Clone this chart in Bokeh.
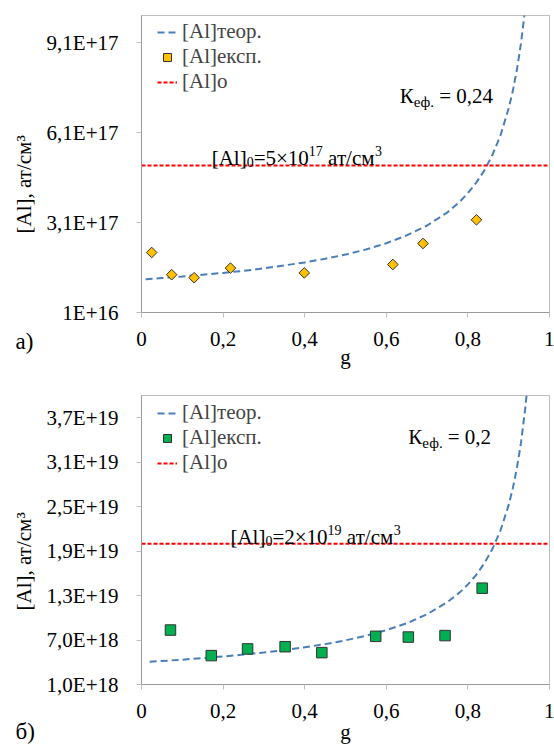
import math
from bokeh.plotting import figure
from bokeh.models import Range1d, FixedTicker, Label, Legend, LegendItem, Title
from bokeh.layouts import column
from bokeh.embed import file_html
from bokeh.resources import INLINE

# ---------------- data ----------------
x_ticks = [0, 0.2, 0.4, 0.6, 0.8, 1]
x_tick_labels = ["0", "0,2", "0,4", "0,6", "0,8", "1"]

# panel a)
a_y_ticks = [1e16, 3.1e17, 6.1e17, 9.1e17]
a_y_tick_labels = ["1E+16", "3,1E+17", "6,1E+17", "9,1E+17"]
a_y_range = [1e16, 1.0e18]
a_theor_g = [0.01, 0.05, 0.1, 0.15, 0.2, 0.25, 0.3, 0.35, 0.4, 0.45, 0.5, 0.55, 0.6,
             0.65, 0.7, 0.75, 0.78, 0.8, 0.82, 0.84, 0.86, 0.88, 0.9, 0.91, 0.92, 0.93, 0.94]
a_theor_c = [1.21e17, 1.25e17, 1.30e17, 1.36e17, 1.42e17, 1.49e17, 1.57e17, 1.67e17, 1.77e17,
             1.89e17, 2.03e17, 2.20e17, 2.41e17, 2.67e17, 3.00e17, 3.44e17, 3.79e17, 4.08e17,
             4.42e17, 4.83e17, 5.35e17, 6.01e17, 6.91e17, 7.48e17, 8.18e17, 9.06e17, 1.018e18]
a_exp_g = [0.025, 0.074, 0.129, 0.218, 0.399, 0.616, 0.690, 0.821]
a_exp_c = [2.10e17, 1.36e17, 1.26e17, 1.58e17, 1.42e17, 1.70e17, 2.40e17, 3.19e17]
a_c0 = 5e17
a_k_text = " = 0,24"
a_c0_text = ["[Al]", "0", "=5×10", "17", " ат/см", "3"]
a_letter = "а)"

# panel б)
b_y_ticks = [1e18, 7e18, 1.3e19, 1.9e19, 2.5e19, 3.1e19, 3.7e19]
b_y_tick_labels = ["1,0E+18", "7,0E+18", "1,3E+19", "1,9E+19", "2,5E+19", "3,1E+19", "3,7E+19"]
b_y_range = [1e18, 4.0e19]
b_theor_g = [0.02, 0.05, 0.1, 0.15, 0.2, 0.25, 0.3, 0.35, 0.4, 0.45, 0.5, 0.55, 0.6, 0.65,
             0.7, 0.75, 0.78, 0.8, 0.82, 0.84, 0.86, 0.88, 0.9, 0.91, 0.92, 0.93, 0.94, 0.945]
b_theor_c = [4.07e18, 4.17e18, 4.35e18, 4.56e18, 4.78e18, 5.04e18, 5.32e18, 5.65e18, 6.02e18,
             6.45e18, 6.96e18, 7.58e18, 8.33e18, 9.26e18, 1.048e19, 1.213e19, 1.343e19,
             1.450e19, 1.577e19, 1.733e19, 1.928e19, 2.181e19, 2.524e19, 2.746e19, 3.017e19,
             3.357e19, 3.798e19, 4.07e19]
b_exp_g = [0.071, 0.171, 0.260, 0.352, 0.442, 0.574, 0.654, 0.744, 0.835]
b_exp_c = [8.35e18, 4.9e18, 5.8e18, 6.1e18, 5.3e18, 7.5e18, 7.4e18, 7.6e18, 1.40e19]
b_c0 = 2e19
b_k_text = " = 0,2"
b_c0_text = ["[Al]", "0", "=2×10", "19", " ат/см", "3"]
b_letter = "б)"

legend_labels = ["[Al]теор.", "[Al]експ.", "[Al]o"]
y_axis_title = "[Al], ат/см³"
x_axis_title = "g"

# ---------------- styling helpers ----------------
FONT = "'Liberation Serif', 'Times New Roman', serif"
BLUE = "#4A7EBB"
RED = "#FF0000"
W = {'[': 0.333, ']': 0.333, 'A': 0.722, 'l': 0.278, '=': 0.564, '×': 0.564, ' ': 0.25,
     ',': 0.25, '.': 0.25, '/': 0.278, 'а': 0.444, 'т': 0.453, 'с': 0.444, 'м': 0.611,
     'К': 0.667, 'е': 0.444, 'ф': 0.649}


def tw(s, size):
    return sum(W.get(ch, 0.5) for ch in s) * size


def rich(p, x, y, segs, y_off=0):
    off = 0.0
    for txt, size, dy in segs:
        stripped = txt.lstrip(" ")
        off += tw(txt[:len(txt) - len(stripped)], size)   # leading spaces -> offset
        p.add_layout(Label(x=x, y=y, x_offset=off, y_offset=y_off + dy, text=stripped,
                           text_font=FONT, text_font_size=f"{size}px",
                           text_baseline="alphabetic", text_align="left",
                           text_color="black"))
        off += tw(stripped, size)


def panel(height, top, bottom, y_rng, y_ticks, y_labels, tg, tc, eg, ec, c0,
          marker, msize, mangle, mcolor, k_text, k_pos, c0_segs, c0_x, c0_dy,
          ytitle_offset, letter, letter_standoff, g_standoff, legend_vy):
    p = figure(width=554, height=height, x_range=Range1d(0, 1),
               y_range=Range1d(y_rng[0], y_rng[1]), output_backend="svg",
               toolbar_location=None, min_border_left=141, min_border_right=5,
               min_border_top=top, min_border_bottom=bottom)
    p.xgrid.visible = False
    p.ygrid.visible = False
    p.outline_line_color = "#BFBFBF"
    p.background_fill_color = "white"
    p.border_fill_color = "white"
    for ax, ticks, labels in ((p.xaxis[0], x_ticks, x_tick_labels),
                              (p.yaxis[0], y_ticks, y_labels)):
        ax.ticker = FixedTicker(ticks=ticks)
        ax.major_label_overrides = {t: l for t, l in zip(ticks, labels)}
        ax.axis_line_color = "#9A9A9A"
        ax.major_tick_line_color = "#BFBFBF"
        ax.major_tick_in = 0
        ax.major_tick_out = 5
        ax.minor_tick_line_color = None
        ax.major_label_text_font = FONT
        ax.major_label_text_font_size = "21px"
        ax.major_label_text_color = "black"
    p.xaxis.major_label_standoff = 14
    p.yaxis.major_label_standoff = 18
    p.xaxis.axis_label = x_axis_title
    p.xaxis.axis_label_text_font = FONT
    p.xaxis.axis_label_text_font_size = "21px"
    p.xaxis.axis_label_text_font_style = "normal"
    p.xaxis.axis_label_text_color = "black"
    p.xaxis.axis_label_standoff = g_standoff

    curve = p.line(tg, tc, line_color=BLUE, line_width=2, line_dash="7 4")
    ref = p.line([x_ticks[0], x_ticks[-1]], [c0, c0], line_color=RED, line_width=2,
                 line_dash="4 2")
    pts = p.scatter(eg, ec, marker=marker, size=msize, angle=mangle, fill_color=mcolor,
                    line_color="#333333", line_width=1)

    leg = Legend(items=[LegendItem(label=legend_labels[0], renderers=[curve]),
                        LegendItem(label=legend_labels[1], renderers=[pts]),
                        LegendItem(label=legend_labels[2], renderers=[ref])],
                 location=(16, legend_vy), padding=0, margin=0, spacing=-3,
                 label_height=20, glyph_height=20, glyph_width=20, label_standoff=5,
                 border_line_color=None, background_fill_alpha=0,
                 label_text_font=FONT, label_text_font_size="21px")
    p.add_layout(leg)

    # K_eff annotation
    rich(p, k_pos[0], k_pos[1], [("К", 21, 0), ("еф.", 15, -6), (k_text, 21, 0)])
    # [Al]0 annotation
    rich(p, c0_x, c0, [(c0_segs[0], 21, 0), (c0_segs[1], 14, -4), (c0_segs[2], 21, 0),
                       (c0_segs[3], 14, 7), (c0_segs[4], 21, 0), (c0_segs[5], 14, 7)],
         y_off=c0_dy)
    # y axis title (side panel, rotated)
    p.add_layout(Title(text=y_axis_title, align="left", vertical_align="middle",
                       offset=ytitle_offset, standoff=14, text_font=FONT,
                       text_font_size="21px", text_font_style="normal",
                       text_color="black"), "left")
    # panel letter (below panel)
    p.add_layout(Title(text=letter, align="left", vertical_align="top", offset=-126,
                       standoff=letter_standoff, text_font=FONT, text_font_size="23px",
                       text_font_style="normal", text_color="black"), "below")
    return p


pa = panel(380, 15, 68, a_y_range, a_y_ticks, a_y_tick_labels,
           a_theor_g, a_theor_c, a_exp_g, a_exp_c, a_c0, "square", 7.5, math.pi / 4,
           "#FFC000", a_k_text, (0.633, 7.33e17), a_c0_text, 0.172, 8,
           79, a_letter, -86, -4, 218)
pb = panel(366, 15, 62, b_y_range, b_y_ticks, b_y_tick_labels, b_theor_g, b_theor_c,
           b_exp_g, b_exp_c, b_c0, "square", 10.5, 0, "#00B050",
           b_k_text, (0.654, 3.44e19), b_c0_text, 0.218, 7,
           74, b_letter, -56, -1, 209)

layout = column(pa, pb)
open("out.html", "w").write(file_html(layout, INLINE))
